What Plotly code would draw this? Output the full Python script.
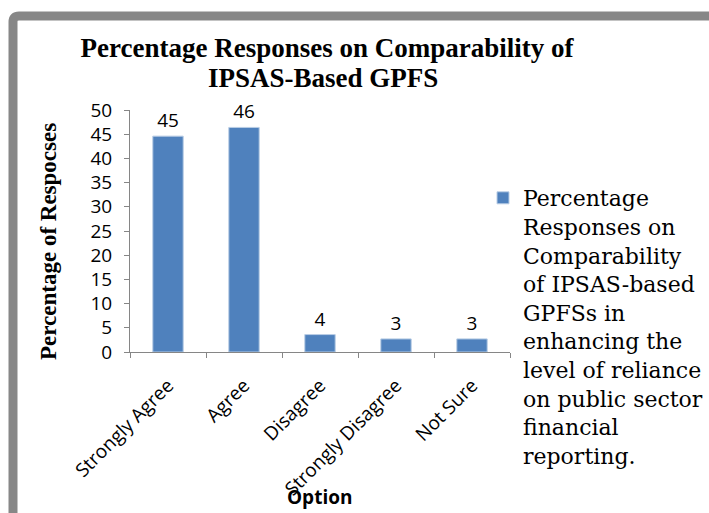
import plotly.graph_objects as go

categories = ["Strongly Agree", "Agree", "Disagree", "Strongly Disagree", "Not Sure"]
percentages = [44.6, 46.4, 3.6, 2.7, 2.7]
series_name = ("Percentage<br>Responses on<br>Comparability<br>of IPSAS-based<br>GPFSs in<br>"
               "enhancing the<br>level of reliance<br>on public sector<br>financial<br>reporting.")
title_line1 = "Percentage Responses on Comparability of"
title_line2 = "IPSAS-Based GPFS"
y_title = "Percentage of Respocses"
x_title = "Option"
y_ticks = [0, 5, 10, 15, 20, 25, 30, 35, 40, 45, 50]

W, H = 709, 513
ML, MR, MT, MB = 130, W - 510, 110, H - 352
PW, PH = W - ML - MR, H - MT - MB

def px(x):
    return (x - ML) / PW

def py(y):
    return (H - MB - y) / PH

SANS = "Open Sans"
SERIF = "Liberation Serif"
TITLE_FONT = dict(family=SERIF, size=27, color="#000000", weight="bold")

fig = go.Figure()
fig.add_trace(go.Bar(
    x=categories, y=percentages, name=series_name,
    marker=dict(color="#4F81BD", line=dict(color="#B9CDE5", width=1)),
    texttemplate="%{y:.0f}", textposition="outside",
    textfont=dict(family=SANS, size=19, color="#000000"),
    cliponaxis=False, showlegend=True,
))

fig.update_layout(
    width=W, height=H,
    margin=dict(l=ML, r=MR, t=MT, b=MB, autoexpand=False),
    paper_bgcolor="white", plot_bgcolor="white",
    bargap=0.6,
    title=dict(text=title_line1, xref="container", x=327 / W, xanchor="center",
               y=1 - 48 / H, yanchor="middle", yref="container", automargin=False,
               font=TITLE_FONT),
    legend=dict(x=px(483), y=py(177), xanchor="left", yanchor="top",
                valign="top", font=dict(family="DejaVu Serif", size=22, color="#000000"),
                bgcolor="rgba(0,0,0,0)", tracegroupgap=0, maxheight=420),
    showlegend=True,
    font=dict(family=SANS, color="#000000"),
)

fig.update_yaxes(range=[0, 50], tickvals=y_ticks, showgrid=False, zeroline=False,
                 showline=True, linecolor="#868686", linewidth=1, automargin=False,
                 ticks="outside", ticklen=5, tickcolor="#868686", ticklabelstandoff=8,
                 tickfont=dict(family=SANS, size=19, color="#000000"))
fig.update_xaxes(showgrid=False, showline=True, linecolor="#868686", linewidth=1,
                 automargin=False,
                 ticks="outside", ticklen=5, tickcolor="#868686", tickson="boundaries",
                 tickangle=-45, ticklabelstandoff=14,
                 tickfont=dict(family=SANS, size=19, color="#000000"))

fig.add_annotation(text=title_line2, xref="paper", yref="paper", x=px(323), y=py(78),
                   showarrow=False, xanchor="center", yanchor="middle", font=TITLE_FONT)
fig.add_annotation(text=y_title, xref="paper", yref="paper", x=px(48), y=py(242),
                   textangle=-90, showarrow=False, xanchor="center", yanchor="middle",
                   font=dict(family=SERIF, size=23, color="#000000", weight="bold"))
fig.add_annotation(text=x_title, xref="paper", yref="paper", x=px(319), y=py(497),
                   showarrow=False, xanchor="center", yanchor="middle",
                   font=dict(family=SANS, size=19, color="#000000", weight="bold"))

# gray frame with rounded top-left corner
r = 6
fig.add_shape(type="path", xref="paper", yref="paper",
              path=(f"M {px(13)} {py(518)} L {px(13)} {py(16 + r)} "
                    f"Q {px(13)} {py(16)} {px(13 + r)} {py(16)} L {px(740)} {py(16)}"),
              line=dict(color="#878787", width=9), layer="below")

fig.write_html("out.html", config={"displayModeBar": False},
               post_script="document.body.style.margin='0px';")
